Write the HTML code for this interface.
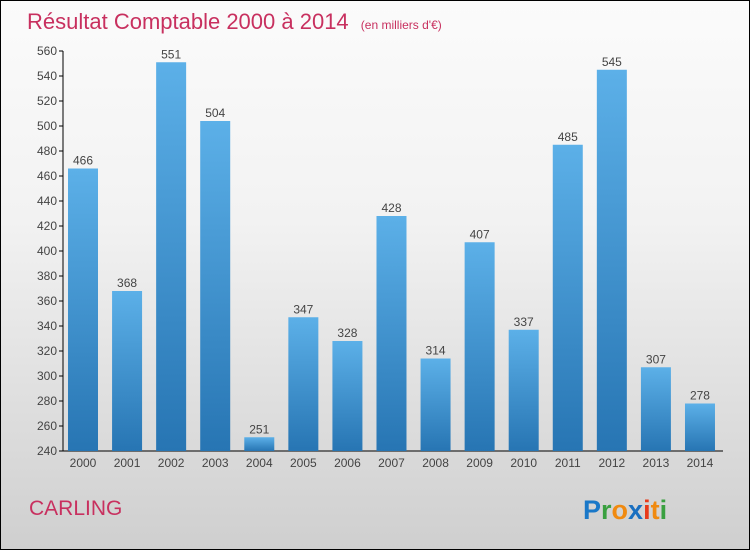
<!DOCTYPE html>
<html><head><meta charset="utf-8"><style>
body{margin:0}
#c{width:750px;height:550px;position:relative;box-sizing:border-box;border:1px solid #000;background:linear-gradient(#fbfbfb,#f2f2f2 40%,#cfcfcf);font-family:"Liberation Sans",sans-serif;overflow:hidden}
svg{position:absolute;left:0;top:0}
</style></head><body>
<div id="c">
<svg width="750" height="550" id="s">
<defs><linearGradient id="g" x1="0" y1="0" x2="0" y2="1"><stop offset="0" stop-color="#5cb0e8"/><stop offset="1" stop-color="#2775b3"/></linearGradient></defs>
<text x="26" y="28" font-size="22" fill="#c8305f">Résultat Comptable 2000 à 2014 <tspan font-size="12" dx="6">(en milliers d'€)</tspan></text>
<text x="28" y="514" font-size="21" fill="#c8305f">CARLING</text>
<text x="582" y="518" font-size="27" font-weight="bold"><tspan fill="#1a78c8">P</tspan><tspan fill="#3aa040">r</tspan><tspan fill="#f08a10">o</tspan><tspan fill="#1a6fc0">x</tspan><tspan fill="#e83a1a">i</tspan><tspan fill="#f08a10">t</tspan><tspan fill="#3aa040">i</tspan></text>
</svg>
<script>
const categories=["2000","2001","2002","2003","2004","2005","2006","2007","2008","2009","2010","2011","2012","2013","2014"];
const values=[466,368,551,504,251,347,328,428,314,407,337,485,545,307,278];
const yTicks=[240,260,280,300,320,340,360,380,400,420,440,460,480,500,520,540,560];
const s=document.getElementById('s');const NS='http://www.w3.org/2000/svg';
const y=v=>450-(v-240)*1.25;const x=i=>67+i*44.07;
function mk(t,a){const e=document.createElementNS(NS,t);for(const k in a)e.setAttribute(k,a[k]);s.appendChild(e);return e;}
const ax=mk('line',{x1:62,y1:50,x2:62,y2:450,stroke:'#000'});


const xa=mk('line',{x1:62,y1:450,x2:722,y2:450,stroke:'#000'});


yTicks.forEach(v=>{
const tk=mk('line',{x1:58,x2:62,y1:y(v),y2:y(v),stroke:'#000'});


const t=mk('text',{x:56,y:y(v)+4,'text-anchor':'end','font-size':12,fill:'#444'});t.textContent=v;


});
categories.forEach((c,i)=>{
const v=values[i];
const r=mk('rect',{x:x(i),y:y(v),width:30,height:450-y(v),fill:'url(#g)'});


const l=mk('text',{x:x(i)+15,y:y(v)-4,'text-anchor':'middle','font-size':12,fill:'#444'});l.textContent=v;


const tl=mk('text',{x:x(i)+15,y:466,'text-anchor':'middle','font-size':12,fill:'#444'});tl.textContent=c;


});
</script>
</div></body></html>
